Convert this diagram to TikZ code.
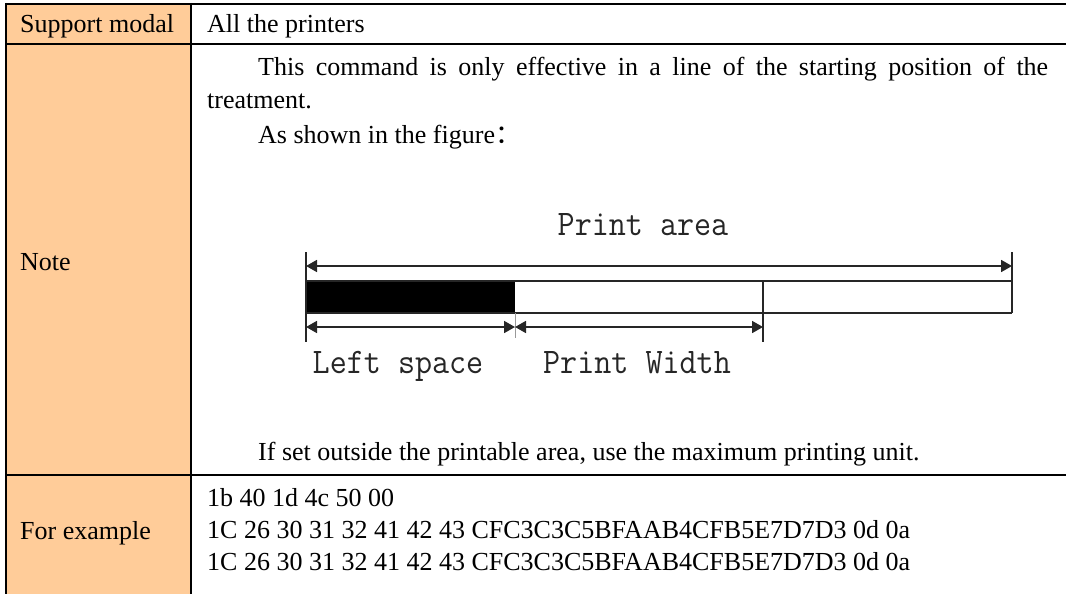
\documentclass[tikz,border=0pt]{standalone}
\usepackage{fontspec}
\usepackage{graphicx}
\setmainfont{Liberation Serif}
\newfontfamily\cjk{Noto Sans CJK SC}
\usetikzlibrary{arrows.meta}
\definecolor{hdr}{HTML}{FFCC99}
\newcommand\figfont{\ttfamily\fontsize{36}{40}\selectfont}
\begin{document}
\begin{tikzpicture}[x=1pt,y=-1pt,
  txt/.style={anchor=base west, inner sep=0pt, font=\fontsize{26}{31}\selectfont},
  lbl/.style={anchor=base, inner sep=0pt, font=\figfont, text=black!85},
  rule/.style={line width=2pt, black},
  fig/.style={line width=1.8pt, black!85},
  tip/.tip={Triangle[length=11pt,width=12pt]},
  dimline/.style={fig, tip-tip},
]
\useasboundingbox (0,0) rectangle (1066,594);
% table
\fill[hdr] (6,4) rectangle (191,594);
\draw[rule] (6,4) -- (1066,4);
\draw[rule] (6,44) -- (1066,44);
\draw[rule] (6,475) -- (1066,475);
\draw[rule] (6,3) -- (6,594);
\draw[rule] (191,3) -- (191,594);
% left column
\node[txt] (h1) at (20,33) {Support modal};
\node[txt] (h2) at (20,270) {Note};
\node[txt] (h3) at (20,539) {For example};
% right column
\node[txt] (c1) at (207,33) {All the printers};
\node[txt] (n1) at (258,75) {\makebox[790pt][s]{This command is only effective in a line of the starting position of the}};
\node[txt] (n2) at (207,109) {treatment.};
\node[txt] (n3) at (258,143) {As shown in the figure{\cjk ：}};
\node[txt] (n4) at (258,460) {If set outside the printable area, use the maximum printing unit.};
\node[txt] (e1) at (207,506) {1b 40 1d 4c 50 00};
\node[txt] (e2) at (207,538) {1C 26 30 31 32 41 42 43 CFC3C3C5BFAAB4CFB5E7D7D3 0d 0a};
\node[txt] (e3) at (207,570) {1C 26 30 31 32 41 42 43 CFC3C3C5BFAAB4CFB5E7D7D3 0d 0a};
% figure
\fill[black] (306,281) rectangle (515,313);
\draw[fig] (306,281) -- (1012,281);
\draw[fig] (306,313) -- (1012,313);
\draw[fig] (306,252) -- (306,342);
\draw[fig] (1012,252) -- (1012,313);
\draw[fig] (763,281) -- (763,342);
\draw[black!40, line width=0.8pt] (515,313) -- (515,338);
\coordinate (ta) at (306,266);
\coordinate (tb) at (1012,266);
\coordinate (la) at (306,327);
\coordinate (lb) at (515,327);
\coordinate (lc) at (763,327);
\draw[dimline] (ta) -- (tb);
\draw[dimline] (la) -- (lb);
\draw[dimline] (lb) -- (lc);
\node[lbl] (pa) at (643,235) {\scalebox{0.92}[1]{Print area}};
\node[lbl] (ls) at (398,373) {\scalebox{0.92}[1]{Left space}};
\node[lbl] (pw) at (637,373) {\scalebox{0.92}[1]{Print Width}};
\end{tikzpicture}
\end{document}
